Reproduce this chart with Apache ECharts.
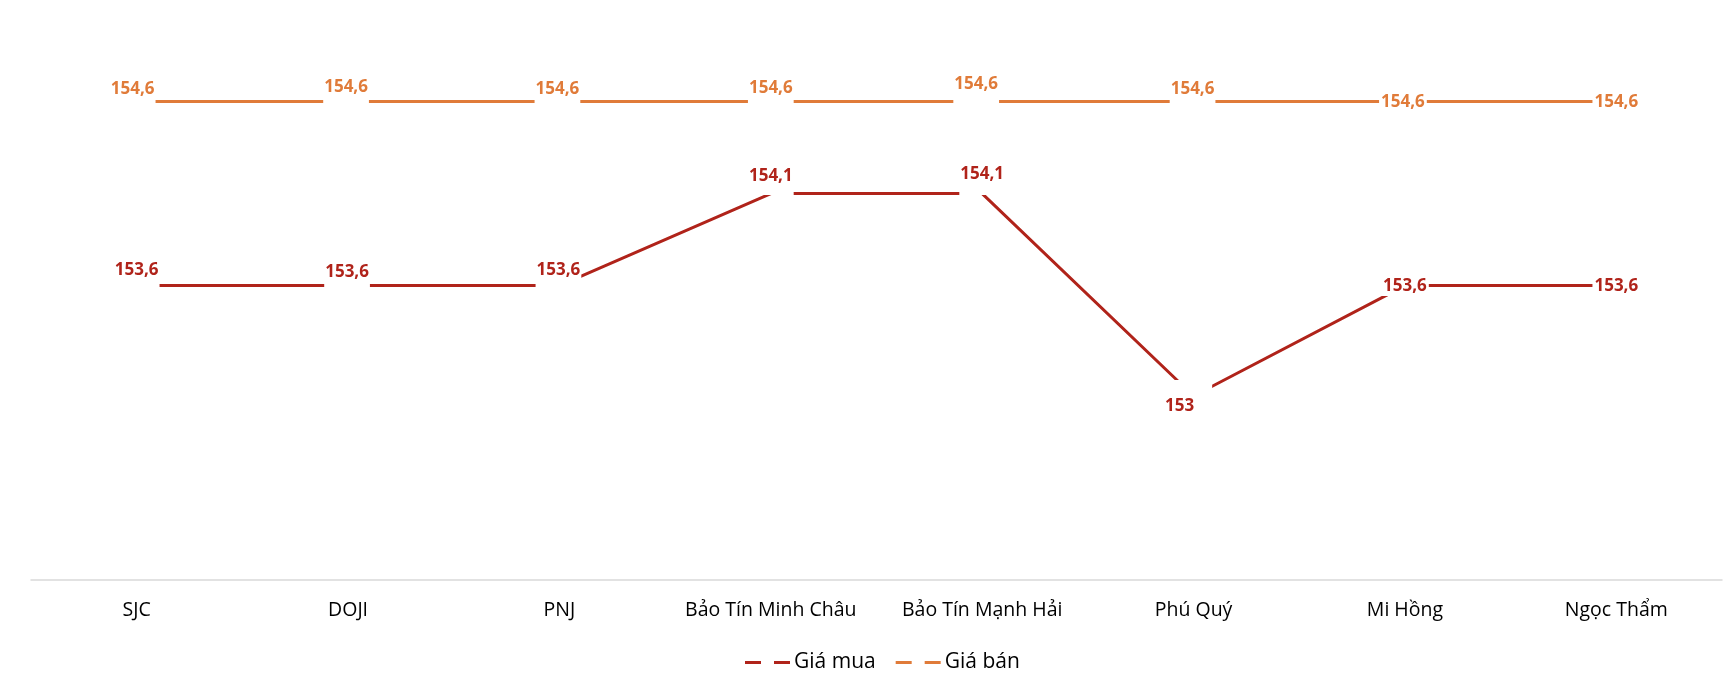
<!DOCTYPE html>
<html>
<head>
<meta charset="utf-8">
<script src="https://cdn.jsdelivr.net/npm/echarts@6/dist/echarts.min.js"></script>
<style>
  html, body { margin: 0; padding: 0; background: #fff; }
  #chart { width: 1732px; height: 678px; }
</style>
</head>
<body>
<div id="chart"></div>
<script>
const categories = ['SJC', 'DOJI', 'PNJ', 'Bảo Tín Minh Châu', 'Bảo Tín Mạnh Hải', 'Phú Quý', 'Mi Hồng', 'Ngọc Thẩm'];
const buyPrices = [153.6, 153.6, 153.6, 154.1, 154.1, 153, 153.6, 153.6];
const sellPrices = [154.6, 154.6, 154.6, 154.6, 154.6, 154.6, 154.6, 154.6];

// label placement per point (how far above the line the text sits, 0 = on the line)
const buyLift = [15, 13, 15, 17, 19, -10, 0, 0];
const buyShift = [0, -1, -1, 0, 0, -6, 0, 0];
const sellLift = [12, 14, 12, 13, 17, 12, 0, 0];
const sellShift = [-4, -2, -2, 0, -6, -1, -2, 0];

const RED = '#B0231A';
const ORANGE = '#E07B39';
const FONT = '"Open Sans", "DejaVu Sans", sans-serif';

function fmt(v) {
    return String(v).replace('.', ',');
}

function pointLabel(lift, shift) {
    if (lift === 0) {
        // label sits on the line, hiding it
        return { position: 'inside', padding: [1, 2, 1, 2], offset: [shift, 1] };
    }
    if (lift < 0) {
        // below the point, box reaching up over the point
        return { position: 'bottom', distance: 0, padding: [18, 18, 2, 2], offset: [shift, -16.5] };
    }
    return { position: 'top', distance: 0, padding: [0, 1, lift - 6.5, 1], offset: [shift, 2] };
}

function buildData(values, lifts, shifts) {
    return values.map(function (v, i) {
        return { value: v, label: pointLabel(lifts[i], shifts[i]) };
    });
}

function lineSeries(name, values, lifts, shifts, color) {
    return {
        name: name,
        type: 'line',
        symbol: 'circle',
        symbolSize: 1,
        showSymbol: true,
        data: buildData(values, lifts, shifts),
        lineStyle: { color: color, width: 3 },
        itemStyle: { color: color },
        label: {
            show: true,
            color: color,
            fontFamily: FONT,
            fontWeight: 'bold',
            fontSize: 17,
            lineHeight: 17,
            backgroundColor: '#fff',
            formatter: function (p) { return fmt(p.value); }
        },
        emphasis: { disabled: true },
        animation: false
    };
}

const chart = echarts.init(document.getElementById('chart'));
chart.setOption({
    backgroundColor: '#fff',
    grid: { left: 31, right: 10, top: 28, bottom: 98 },
    legend: {
        data: ['Giá mua', 'Giá bán'],
        left: 740,
        top: 647,
        icon: 'path://M0,0H16V3H0Z M29,0H45V3H29Z',
        itemWidth: 45,
        itemHeight: 3,
        itemGap: 20,
        textStyle: { color: '#000', fontFamily: FONT, fontSize: 21, padding: [0, 0, 0, -1] }
    },
    xAxis: {
        type: 'category',
        data: categories,
        boundaryGap: true,
        axisLine: { lineStyle: { color: '#d9d9d9', width: 1.5 } },
        axisTick: { show: false },
        axisLabel: { color: '#000', fontFamily: FONT, fontSize: 19.5, margin: 20, interval: 0 }
    },
    yAxis: {
        type: 'value',
        min: 152,
        max: 155,
        show: false,
        splitLine: { show: false }
    },
    series: [
        lineSeries('Giá mua', buyPrices, buyLift, buyShift, RED),
        lineSeries('Giá bán', sellPrices, sellLift, sellShift, ORANGE)
    ]
});
</script>
</body>
</html>
